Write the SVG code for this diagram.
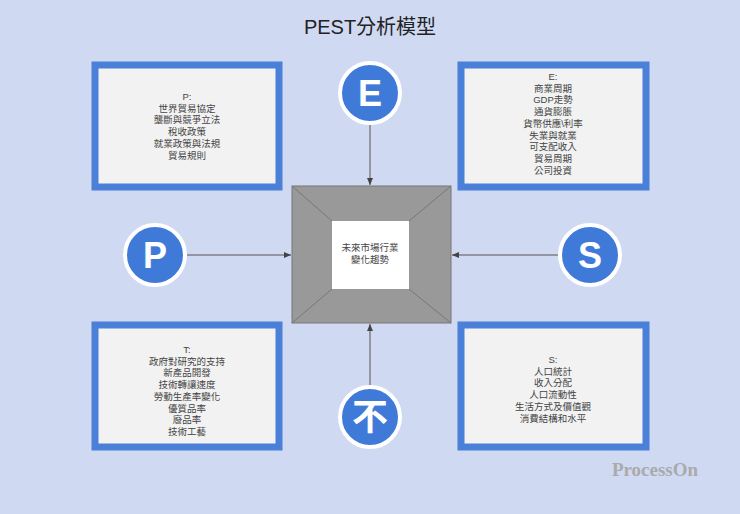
<svg xmlns="http://www.w3.org/2000/svg" width="740" height="514" viewBox="0 0 740 514">
<style>
.box{fill:#f2f2f2;stroke:#4a80d8;stroke-width:7}
.t{font-family:"Liberation Sans","Noto Sans CJK TC",sans-serif;font-size:9.5px;fill:#444;text-anchor:middle}
.c{fill:#3f7ad9;stroke:#fff;stroke-width:4}
.cl{font-family:"Liberation Sans","Noto Sans CJK TC",sans-serif;font-size:36px;font-weight:bold;fill:#fff;text-anchor:middle}
.ln{stroke:#555;stroke-width:1;fill:none}
</style>
<defs><marker id="a" markerWidth="8" markerHeight="8" refX="7" refY="4" orient="auto" markerUnits="userSpaceOnUse"><path d="M0,1 L7,4 L0,7 Z" fill="#444"/></marker></defs>
<rect width="740" height="514" fill="#d0d9f2"/>
<text x="370" y="34" font-family="'Liberation Sans','Noto Sans CJK TC',sans-serif" font-size="20" fill="#222" text-anchor="middle">PEST分析模型</text>
<g id="boxP"><rect class="box" x="95" y="65" width="184" height="122"/>
<text class="t" y="100"><tspan x="187">P:</tspan><tspan x="187" dy="11.7">世界貿易協定</tspan><tspan x="187" dy="11.7">壟斷與競爭立法</tspan><tspan x="187" dy="11.7">稅收政策</tspan><tspan x="187" dy="11.7">就業政策與法規</tspan><tspan x="187" dy="11.7">貿易規則</tspan></text></g>
<g id="boxE"><rect class="box" x="461" y="65" width="185" height="122"/>
<text class="t" y="80"><tspan x="553">E:</tspan><tspan x="553" dy="11.7">商業周期</tspan><tspan x="553" dy="11.7">GDP走勢</tspan><tspan x="553" dy="11.7">通貨膨脹</tspan><tspan x="553" dy="11.7">貨幣供應\利率</tspan><tspan x="553" dy="11.7">失業與就業</tspan><tspan x="553" dy="11.7">可支配收入</tspan><tspan x="553" dy="11.7">貿易周期</tspan><tspan x="553" dy="11.7">公司投資</tspan></text></g>
<g id="boxT"><rect class="box" x="95" y="325" width="184" height="122"/>
<text class="t" y="353"><tspan x="187">T:</tspan><tspan x="187" dy="11.7">政府對研究的支持</tspan><tspan x="187" dy="11.7">新產品開發</tspan><tspan x="187" dy="11.7">技術轉讓速度</tspan><tspan x="187" dy="11.7">勞動生產率變化</tspan><tspan x="187" dy="11.7">優質品率</tspan><tspan x="187" dy="11.7">廢品率</tspan><tspan x="187" dy="11.7">技術工藝</tspan></text></g>
<g id="boxS"><rect class="box" x="461" y="325" width="185" height="122"/>
<text class="t" y="363"><tspan x="553">S:</tspan><tspan x="553" dy="11.7">人口統計</tspan><tspan x="553" dy="11.7">收入分配</tspan><tspan x="553" dy="11.7">人口流動性</tspan><tspan x="553" dy="11.7">生活方式及價值觀</tspan><tspan x="553" dy="11.7">消費結構和水平</tspan></text></g>
<g id="center">
<rect x="292" y="186" width="159" height="137" fill="#999" stroke="#777"/>
<path d="M292,186 L332,221 M451,186 L409,221 M292,323 L332,289 M451,323 L409,289" stroke="#777" stroke-width="1"/>
<rect x="332" y="221" width="77" height="68" fill="#fff"/>
<text class="t" y="251"><tspan x="370">未來市場行業</tspan><tspan x="370" dy="12">變化趨勢</tspan></text></g>
<g id="circleE"><circle class="c" cx="370" cy="93" r="30"/><text class="cl" x="370" y="106">E</text></g>
<g id="circleP"><circle class="c" cx="155" cy="255" r="30"/><text class="cl" x="155" y="268">P</text></g>
<g id="circleS"><circle class="c" cx="590" cy="255" r="30"/><text class="cl" x="590" y="268">S</text></g>
<g id="circleT"><circle class="c" cx="370" cy="417" r="30"/><text class="cl" x="370" y="430">不</text></g>
<g id="connectors">
<line class="ln" x1="370" y1="125" x2="370" y2="185" marker-end="url(#a)"/>
<line class="ln" x1="187" y1="255" x2="291" y2="255" marker-end="url(#a)"/>
<line class="ln" x1="558" y1="255" x2="452" y2="255" marker-end="url(#a)"/>
<line class="ln" x1="370" y1="385" x2="370" y2="324" marker-end="url(#a)"/>
</g>
<text x="655" y="476" font-family="'Liberation Serif',serif" font-size="19" font-weight="bold" fill="#aaa" text-anchor="middle">ProcessOn</text>
</svg>
